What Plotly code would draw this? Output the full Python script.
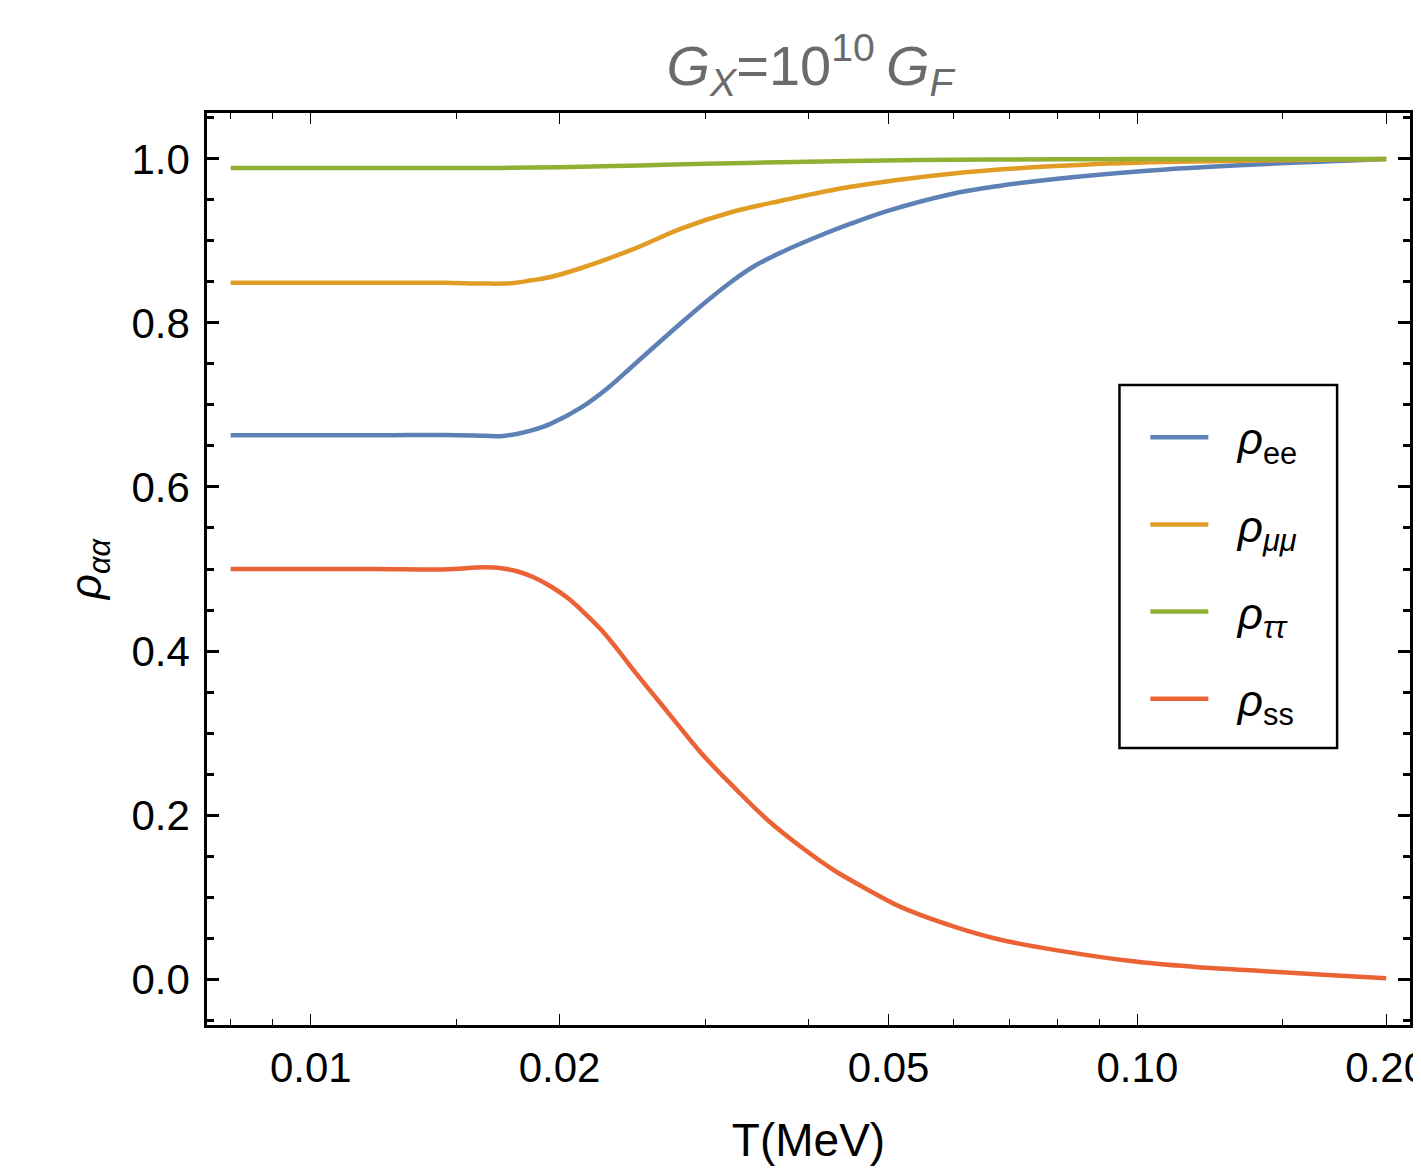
import plotly.graph_objects as go
import numpy as np

# rho_ee
T_ee = [0.008, 0.010, 0.0122, 0.0145, 0.0162, 0.0170, 0.0178, 0.0185, 0.0195, 0.02125,
        0.0229, 0.02442, 0.0263, 0.02806, 0.030, 0.03224, 0.0345, 0.03706, 0.0405, 0.045,
        0.050, 0.05945, 0.068, 0.0785, 0.1037, 0.1369, 0.2]
rho_ee = [0.663, 0.663, 0.663, 0.6635, 0.6625, 0.662, 0.665, 0.669, 0.677, 0.697,
          0.721, 0.746, 0.775, 0.800, 0.825, 0.850, 0.870, 0.886, 0.903, 0.921,
          0.937, 0.957, 0.967, 0.975, 0.986, 0.993, 1.0]

# rho_mumu
T_mumu = [0.008, 0.010, 0.0122, 0.0145, 0.0162, 0.0175, 0.0185, 0.0195, 0.02125, 0.02442,
          0.02806, 0.03224, 0.03706, 0.045, 0.0595, 0.0785, 0.1037, 0.1369, 0.2]
rho_mumu = [0.849, 0.849, 0.849, 0.849, 0.848, 0.8485, 0.852, 0.856, 0.867, 0.889,
            0.915, 0.935, 0.949, 0.966, 0.982, 0.991, 0.996, 0.998, 1.0]

# rho_tautau
T_tautau = [0.008, 0.010, 0.013, 0.017, 0.020, 0.025, 0.030, 0.037, 0.045, 0.060,
            0.080, 0.100, 0.140, 0.2]
rho_tautau = [0.989, 0.989, 0.989, 0.989, 0.990, 0.992, 0.994, 0.996, 0.9975, 0.999,
              0.9995, 1.0, 1.0, 1.0]

# rho_ss
T_ss = [0.008, 0.010, 0.012, 0.0145, 0.0162, 0.0170, 0.0178, 0.0186, 0.0195, 0.0205,
        0.0215, 0.0225, 0.0235, 0.0246, 0.0271, 0.0297, 0.0325, 0.0357, 0.0392, 0.0429,
        0.0472, 0.0517, 0.060, 0.0683, 0.080, 0.100, 0.120, 0.140, 0.170, 0.200]
rho_ss = [0.500, 0.500, 0.500, 0.4995, 0.502, 0.501, 0.497, 0.490, 0.479, 0.464,
          0.445, 0.425, 0.402, 0.376, 0.324, 0.275, 0.234, 0.194, 0.161, 0.133,
          0.109, 0.088, 0.064, 0.048, 0.035, 0.021, 0.014, 0.010, 0.005, 0.001]

names = ["<i>ρ</i><sub>ee</sub>", "<i>ρ</i><sub><i>μμ</i></sub>",
         "<i>ρ</i><sub><i>ττ</i></sub>", "<i>ρ</i><sub>ss</sub>"]
colors = ["#5E81B5", "#E19C24", "#8FB032", "#EB6235"]
series = [(T_ee, rho_ee), (T_mumu, rho_mumu), (T_tautau, rho_tautau), (T_ss, rho_ss)]

x_major = [0.01, 0.02, 0.05, 0.1, 0.2]
x_major_text = ["0.01", "0.02", "0.05", "0.10", "0.20"]
x_minor = [0.008, 0.009, 0.015, 0.03, 0.04, 0.06, 0.07, 0.08, 0.09, 0.15]
y_major = [0.0, 0.2, 0.4, 0.6, 0.8, 1.0]
y_minor = [-0.05, 0.05, 0.1, 0.15, 0.25, 0.3, 0.35, 0.45, 0.5, 0.55, 0.65, 0.7, 0.75,
           0.85, 0.9, 0.95, 1.05]

FONT = "Liberation Sans, Arial, Helvetica, sans-serif"
W, H = 1413, 1163
ML, MR, MT, MB = 199, 11, 105, 146

fig = go.Figure()
for i, (nm, c, (tx, ty)) in enumerate(zip(names, colors, series)):
    fig.add_trace(go.Scatter(x=tx, y=ty, mode="lines", name="&nbsp;&nbsp;" + nm,
                             legendgroup=str(i),
                             line=dict(color=c, width=4.5, shape="spline", smoothing=1.0)))

fig.update_layout(
    width=W, height=H,
    margin=dict(l=ML, r=MR, t=MT, b=MB, autoexpand=False),
    paper_bgcolor="white", plot_bgcolor="white",
    font=dict(family=FONT, size=42, color="black"),
    title=dict(text="<i>G</i><sub><i>X</i></sub>=10<sup>10</sup>\u2009<i>G</i><sub><i>F</i></sub>",
               x=(810 - 8) / W, xanchor="center", y=1 - 57 / H, yanchor="middle",
               font=dict(family=FONT, size=56, color="#6b6b6b")),
    showlegend=True,
    legend=dict(x=0.780, y=0.683, xanchor="left", yanchor="top",
                borderwidth=0, bgcolor="rgba(0,0,0,0)",
                font=dict(family=FONT, size=44, color="black"),
                tracegroupgap=27, itemwidth=58),
    shapes=[dict(type="rect", xref="paper", yref="paper",
                 x0=0.7585, x1=0.9394, y0=0.3037, y1=0.7018,
                 line=dict(color="black", width=2.5), fillcolor="rgba(0,0,0,0)",
                 layer="above")],
)

fig.update_xaxes(
    type="log", range=[np.log10(0.00749), np.log10(0.2137)],
    showline=True, linecolor="black", linewidth=2.5, mirror="ticks",
    ticks="inside", ticklen=11, tickwidth=1.2, tickcolor="black",
    tickvals=x_major, ticktext=x_major_text, ticklabeloverflow="allow",
    minor=dict(tickmode="array", tickvals=x_minor, ticks="inside", ticklen=6,
               tickwidth=1.2, tickcolor="black", showgrid=False),
    showgrid=False, zeroline=False, automargin=False,
    ticklabelstandoff=4,
    title=dict(text="T(MeV)", standoff=34, font=dict(family=FONT, size=46)),
)
fig.update_yaxes(
    range=[-0.056, 1.056],
    showline=True, linecolor="black", linewidth=2.5, mirror="ticks",
    ticks="inside", ticklen=12, tickwidth=2.5, tickcolor="black",
    tickvals=y_major, tickformat=".1f", automargin=False,
    minor=dict(tickmode="array", tickvals=y_minor, ticks="inside", ticklen=7,
               tickwidth=2.5, tickcolor="black", showgrid=False),
    showgrid=False, zeroline=False,
    ticklabelstandoff=6,
    title=dict(text="<i>ρ</i><sub><i>αα</i></sub>", standoff=17, font=dict(family=FONT, size=44)),
)

fig.write_html("out.html")
